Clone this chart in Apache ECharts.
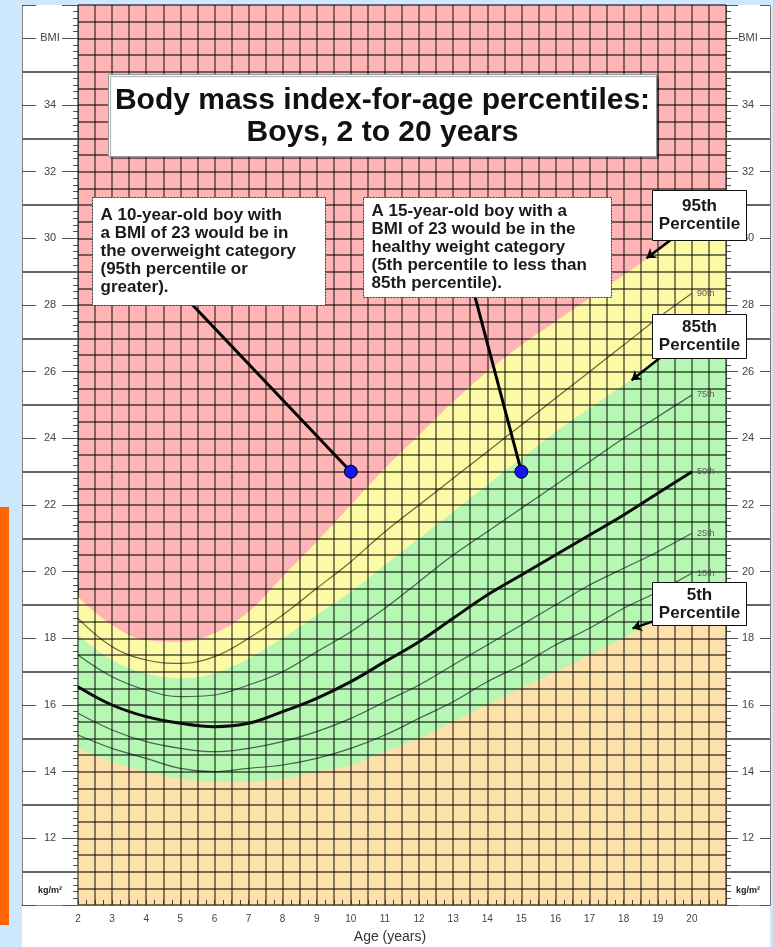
<!DOCTYPE html>
<html>
<head>
<meta charset="utf-8">
<title>Body mass index-for-age percentiles: Boys, 2 to 20 years</title>
<script src="https://cdn.jsdelivr.net/npm/echarts@6.0.0/dist/echarts.min.js"></script>
<style>
    html, body { margin: 0; padding: 0; background: #cde8fc; }
    #wrap { position: relative; width: 773px; height: 947px; overflow: hidden; }
    #sheet { position: absolute; left: 22px; top: 5px; width: 748px; height: 942px; background: #fff; }
    #tab { position: absolute; left: 0; top: 507px; width: 9px; height: 418px; background: #ff6600; }
    #chart { position: absolute; left: 0; top: 0; width: 773px; height: 947px; }
</style>
</head>
<body>
<div id="wrap">
    <div id="sheet"></div>
    <div id="tab"></div>
    <div id="chart"></div>
</div>
<script>
// age in years
var ages = [2, 3, 4, 5, 6, 7, 8, 9, 10, 11, 12, 13, 14, 15, 16, 17, 18, 19, 20];
var ageLabels = [2, 3, 4, 5, 6, 7, 8, 9, 10, 11, 12, 13, 14, 15, 16, 17, 18, 19, 20];

// BMI percentile curves (kg/m2)
var p5 = [14.7, 14.3, 14.0, 13.8, 13.7, 13.7, 13.8, 14.0, 14.2, 14.6, 15.0, 15.5, 16.0, 16.5, 17.0, 17.5, 18.0, 18.6, 19.1];
var p10 = [15.1, 14.7, 14.4, 14.1, 14.0, 14.1, 14.2, 14.4, 14.7, 15.1, 15.6, 16.1, 16.7, 17.2, 17.8, 18.3, 18.9, 19.4, 19.95];
var p25 = [15.75, 15.25, 14.9, 14.7, 14.6, 14.7, 14.9, 15.2, 15.6, 16.1, 16.6, 17.2, 17.8, 18.4, 19.0, 19.6, 20.1, 20.6, 21.15];
var p50 = [16.55, 16.0, 15.65, 15.45, 15.35, 15.45, 15.8, 16.2, 16.7, 17.3, 17.9, 18.6, 19.3, 19.9, 20.5, 21.1, 21.7, 22.35, 23.0];
var p75 = [17.5, 16.85, 16.45, 16.25, 16.3, 16.6, 17.0, 17.6, 18.2, 18.9, 19.7, 20.5, 21.2, 21.9, 22.6, 23.3, 24.0, 24.65, 25.3];
var p85 = [18.1, 17.35, 16.95, 16.8, 16.95, 17.4, 18.0, 18.7, 19.4, 20.2, 21.0, 21.8, 22.6, 23.4, 24.2, 24.9, 25.6, 26.3, 27.0];
var p90 = [18.6, 17.75, 17.35, 17.25, 17.45, 18.0, 18.7, 19.5, 20.3, 21.2, 22.0, 22.8, 23.6, 24.4, 25.2, 26.0, 26.8, 27.6, 28.35];
var p95 = [19.25, 18.4, 17.95, 17.9, 18.15, 18.8, 19.85, 20.9, 22.0, 23.1, 24.1, 25.1, 26.0, 26.8, 27.5, 28.2, 28.9, 29.6, 30.2];

// colour bands keep their level out to the right edge of the grid
var edgeAge = 21;
var edge5 = 19.1;
var edge85 = 27.0;
var edge95 = 30.2;

// y axis labels in the side panels, separators between them
var bmiLabels = [12, 14, 16, 18, 20, 22, 24, 26, 28, 30, 32, 34];
var separators = [11, 13, 15, 17, 19, 21, 23, 25, 27, 29, 31, 33, 35];

// the two example boys and where the callout lines start
var examples = [[10, 23], [15, 23]];
var calloutFrom = [[5.36, 28.0], [13.64, 28.25]];

// arrows from the percentile boxes to the curves: [from, to]
var arrows = [
    [[19.57, 30.1], [18.67, 29.4]],
    [[19.05, 26.4], [18.23, 25.74]],
    [[18.84, 18.5], [18.26, 18.3]]
];

var FONT = '"Liberation Sans", Arial, Helvetica, sans-serif';
var GRID_LINE = 'rgba(0, 0, 0, 0.52)';

function pairs(xs, ys) {
    return xs.map(function (x, i) {
        return [x, ys[i]];
    });
}

function band(values, edge, color) {
    return {
        type: 'line',
        xAxisIndex: 0,
        yAxisIndex: 0,
        data: pairs(ages.concat([edgeAge]), values.concat([edge])),
        smooth: 0.4,
        symbol: 'none',
        silent: true,
        lineStyle: { width: 0 },
        areaStyle: { color: color, opacity: 1, origin: 'start' },
        z: 1
    };
}

function curve(values, label, width, color) {
    return {
        type: 'line',
        xAxisIndex: 0,
        yAxisIndex: 0,
        data: pairs(ages, values),
        smooth: 0.4,
        symbol: 'none',
        silent: true,
        lineStyle: { width: width, color: color },
        endLabel: {
            show: true,
            formatter: label,
            distance: 5,
            color: '#5a5a4a',
            fontSize: 9,
            fontFamily: FONT
        },
        z: 3
    };
}

function panelLabel(v) {
    if (v === 36) return 'BMI';
    if (v === 10) return '{u|kg/m²}';
    if (bmiLabels.indexOf(v) >= 0) return v;
    return '';
}

function panelAxis(grid, position, tickLen, labels, margin) {
    return {
        gridIndex: grid,
        type: 'value',
        position: position,
        min: 10,
        max: 37,
        interval: 2,
        axisLine: { show: true, onZero: false, lineStyle: { color: '#666', width: 1, type: 'dotted' } },
        axisTick: { show: true, inside: true, length: tickLen, lineStyle: { color: '#555', width: 1 } },
        minorTick: { show: labels, splitNumber: 10, length: 5, lineStyle: { color: '#555', width: 1 } },
        splitLine: { show: false },
        axisLabel: {
            show: labels,
            inside: true,
            margin: margin,
            align: 'center',
            formatter: panelLabel,
            color: '#444',
            fontSize: 11,
            fontFamily: FONT,
            rich: {
                u: { fontSize: 9, fontWeight: 'bold', color: '#222', fontFamily: FONT, padding: [0, 0, 28, 0] }
            }
        }
    };
}

function panelXAxis(grid) {
    return {
        gridIndex: grid,
        type: 'value',
        min: 0,
        max: 1,
        axisLine: { show: true, onZero: false, lineStyle: { color: '#666', type: 'dotted' } },
        axisTick: { show: false },
        axisLabel: { show: false },
        splitLine: { show: false }
    };
}

function separatorSeries(xIdx, yIdx) {
    return {
        type: 'line',
        xAxisIndex: xIdx,
        yAxisIndex: yIdx,
        data: [],
        silent: true,
        markLine: {
            silent: true,
            symbol: ['none', 'none'],
            label: { show: false },
            lineStyle: { color: '#666', width: 2, type: 'solid' },
            data: separators.map(function (v) {
                return { yAxis: v };
            })
        }
    };
}

function noteBox(x, y, w, h, text, align, border, dash) {
    return {
        type: 'group',
        left: x,
        top: y,
        z: 100,
        children: [
            {
                type: 'rect',
                shape: { x: 0, y: 0, width: w, height: h },
                style: { fill: '#fff', stroke: border, lineWidth: 1, lineDash: dash },
                z: 100
            },
            {
                type: 'text',
                x: align === 'center' ? w / 2 : 8,
                y: h / 2,
                z: 101,
                style: {
                    text: text,
                    fill: '#1a1a1a',
                    font: 'bold 17px ' + FONT,
                    align: align,
                    verticalAlign: 'middle',
                    lineHeight: 18
                }
            }
        ]
    };
}

var myChart = echarts.init(document.getElementById('chart'));

var option = {
    animation: false,
    backgroundColor: 'transparent',
    grid: [
        { left: 78, top: 5, width: 648, height: 900, show: true, backgroundColor: '#ffb5b5', borderWidth: 0, outerBoundsMode: 'none' },
        { left: 22, top: 5, width: 56, height: 900, outerBoundsMode: 'none' },
        { left: 726, top: 5, width: 44, height: 900, outerBoundsMode: 'none' }
    ],
    xAxis: [
        {
            gridIndex: 0,
            type: 'value',
            min: 2,
            max: 21,
            interval: 0.5,
            z: 2,
            axisLine: { show: true, onZero: false, lineStyle: { color: '#666', width: 1, type: 'dotted' } },
            axisTick: { show: true, inside: true, length: 5, lineStyle: { color: '#4a3a20' } },
            minorTick: { show: true, splitNumber: 2, length: 5, lineStyle: { color: '#4a3a20' } },
            splitLine: { show: true, lineStyle: { color: GRID_LINE, width: 1.8 } },
            axisLabel: {
                margin: 9,
                color: '#444',
                fontSize: 10,
                fontFamily: FONT,
                formatter: function (v) {
                    return ageLabels.indexOf(v) >= 0 ? v : '';
                }
            },
            name: 'Age (years)',
            nameLocation: 'middle',
            nameGap: 25,
            nameTextStyle: { fontSize: 14, color: '#333', fontFamily: FONT, padding: [0, 24, 0, 0] }
        },
        panelXAxis(1),
        panelXAxis(2)
    ],
    yAxis: [
        {
            gridIndex: 0,
            type: 'value',
            min: 10,
            max: 37,
            interval: 0.5,
            z: 2,
            axisLine: { show: false },
            axisTick: { show: false },
            axisLabel: { show: false },
            splitLine: { show: true, lineStyle: { color: GRID_LINE, width: 1.8 } }
        },
        panelAxis(1, 'right', 16, true, 28),
        panelAxis(1, 'left', 14, false, 0),
        panelAxis(2, 'left', 12, true, 22),
        panelAxis(2, 'right', 10, false, 0)
    ],
    series: [
        band(p95, edge95, '#fdfaa5'),
        band(p85, edge85, '#b5f7b3'),
        band(p5, edge5, '#fee0aa'),
        curve(p10, '10th', 1.2, 'rgba(0,0,0,0.6)'),
        curve(p25, '25th', 1.2, 'rgba(0,0,0,0.6)'),
        curve(p75, '75th', 1.2, 'rgba(0,0,0,0.6)'),
        curve(p90, '90th', 1.2, 'rgba(0,0,0,0.6)'),
        curve(p50, '50th', 3, '#0b0b0b'),
        {
            type: 'scatter',
            xAxisIndex: 0,
            yAxisIndex: 0,
            data: examples,
            symbolSize: 13,
            silent: true,
            itemStyle: { color: '#1414f0', borderColor: '#000', borderWidth: 1, opacity: 1 },
            z: 6,
            markLine: {
                silent: true,
                symbol: ['none', 'none'],
                label: { show: false },
                lineStyle: { color: '#000', width: 3, type: 'solid' },
                data: calloutFrom.map(function (c, i) {
                    return [{ coord: c }, { coord: examples[i] }];
                })
            }
        },
        {
            type: 'scatter',
            xAxisIndex: 0,
            yAxisIndex: 0,
            data: [],
            silent: true,
            z: 6,
            markLine: {
                silent: true,
                symbol: ['none', 'arrow'],
                symbolSize: 9,
                label: { show: false },
                lineStyle: { color: '#000', width: 2.5, type: 'solid' },
                data: arrows.map(function (a) {
                    return [{ coord: a[0] }, { coord: a[1] }];
                })
            }
        },
        separatorSeries(1, 1),
        separatorSeries(2, 3)
    ],
    graphic: [
        {
            type: 'group',
            left: 108,
            top: 74,
            z: 100,
            children: [
                {
                    type: 'rect',
                    shape: { x: 0, y: 0, width: 548, height: 82 },
                    style: { fill: '#fff', stroke: '#999', lineWidth: 1, shadowColor: 'rgba(0,0,0,0.35)', shadowOffsetX: 2, shadowOffsetY: 2, shadowBlur: 1 },
                    z: 100
                },
                {
                    type: 'text',
                    x: 274,
                    y: 42,
                    z: 101,
                    style: {
                        text: 'Body mass index-for-age percentiles:\nBoys, 2 to 20 years',
                        fill: '#111',
                        font: 'bold 30px ' + FONT,
                        align: 'center',
                        verticalAlign: 'middle',
                        lineHeight: 32
                    }
                }
            ]
        },
        noteBox(92, 197, 233, 108, 'A 10-year-old boy with\na BMI of 23 would be in\nthe overweight category\n(95th percentile or\ngreater).', 'left', '#333', [2, 1]),
        noteBox(363, 197, 248, 100, 'A 15-year-old boy with a\nBMI of 23 would be in the\nhealthy weight category\n(5th percentile to less than\n85th percentile).', 'left', '#333', [2, 1]),
        noteBox(652, 190, 94, 50, '95th\nPercentile', 'center', '#111', null),
        noteBox(652, 314, 94, 44, '85th\nPercentile', 'center', '#111', null),
        noteBox(652, 582, 94, 43, '5th\nPercentile', 'center', '#111', null)
    ]
};

myChart.setOption(option);
</script>
</body>
</html>
